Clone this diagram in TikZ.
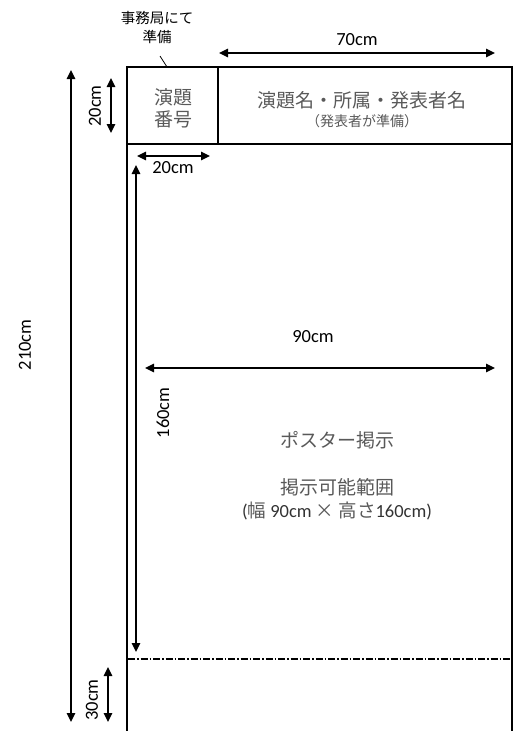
\documentclass[tikz,border=0pt]{standalone}
\usepackage{fontspec}
\setmainfont{Carlito}
\newfontfamily\cjk{Noto Sans CJK JP}
\usetikzlibrary{arrows.meta}
\definecolor{textgray}{HTML}{595959}
\tikzset{
	board/.style={line width=1.6pt},
	dim/.style={{Triangle[length=9pt,width=8.5pt]}-{Triangle[length=9pt,width=8.5pt]},line width=1.3pt},
	lbl/.style={inner sep=0pt,font=\fontsize{18.5}{20}\selectfont},
	jp/.style={inner sep=0pt,text=textgray,font=\cjk\fontsize{19}{21}\selectfont},
	jpsmall/.style={inner sep=0pt,text=textgray,font=\cjk\fontsize{14}{16}\selectfont}
}
\begin{document}
\begin{tikzpicture}[x=1pt,y=-1pt]
	\useasboundingbox (0,0) rectangle (514,731);
	%board
	\coordinate (bl) at (127,740);
	\coordinate (tl) at (127,67);
	\coordinate (tr) at (512,67);
	\coordinate (br) at (512,740);
	\coordinate (hl) at (127,144);
	\coordinate (hr) at (512,144);
	\coordinate (dt) at (218,67);
	\coordinate (db) at (218,144);
	\draw[board] (bl) -- (tl) -- (tr) -- (br);
	\draw[board] (hl) -- (hr);
	\draw[board] (dt) -- (db);
	\coordinate (ll) at (128,659);
	\coordinate (lr) at (511,659);
	\draw[line width=1.5pt, dash pattern=on 7pt off 2pt on 1.5pt off 2pt] (ll) -- (lr);

	%header texts
	\node[jp] (no1) at (173,97){演題};
	\node[jp] (no2) at (173,119){番号};
	\node[jp] (title) at (362,100){演題名・所属・発表者名};
	\node[jpsmall] (prep) at (362,121){（発表者が準備）};

	%office note
	\node[inner sep=0pt,font=\cjk\fontsize{14.5}{16}\selectfont] (office1) at (157,18){事務局にて};
	\node[inner sep=0pt,font=\cjk\fontsize{14.5}{16}\selectfont] (office2) at (157,37){準備};
	\coordinate (ofa) at (160,56);
	\coordinate (ofb) at (167,67);
	\draw[line width=0.8pt] (ofa) -- (ofb);

	%dimensions
	\coordinate (w70a) at (219,53);
	\coordinate (w70b) at (495,53);
	\draw[dim] (w70a) -- (w70b);
	\node[lbl] (l70) at (357,40){70cm};

	\coordinate (h20a) at (111,78);
	\coordinate (h20b) at (111,133);
	\draw[dim] (h20a) -- (h20b);
	\node[lbl,rotate=90] (l20v) at (95,106){20cm};

	\coordinate (w20a) at (137,156);
	\coordinate (w20b) at (210,156);
	\draw[dim] (w20a) -- (w20b);
	\node[lbl] (l20h) at (173,168){20cm};

	\coordinate (h210a) at (71,70);
	\coordinate (h210b) at (71,722);
	\draw[dim] (h210a) -- (h210b);
	\node[lbl,rotate=90] (l210) at (25,345){210cm};

	\coordinate (w90a) at (145,368);
	\coordinate (w90b) at (495,368);
	\draw[dim] (w90a) -- (w90b);
	\node[lbl] (l90) at (313,337){90cm};

	\coordinate (h160a) at (136,165);
	\coordinate (h160b) at (136,652);
	\draw[dim] (h160a) -- (h160b);
	\node[lbl,rotate=90] (l160) at (163,413){160cm};

	\coordinate (h30a) at (108,667);
	\coordinate (h30b) at (108,722);
	\draw[dim] (h30a) -- (h30b);
	\node[lbl,rotate=90] (l30) at (92,700){30cm};

	%poster area
	\node[jp] (poster) at (337,440){ポスター掲示};
	\node[jp] (area) at (337,487){掲示可能範囲};
	\node[lbl,text=black!80] (size) at (337,511){({\cjk\color{textgray}幅} 90cm {\cjk\color{textgray}×} {\cjk\color{textgray}高さ}160cm)};
\end{tikzpicture}
\end{document}
